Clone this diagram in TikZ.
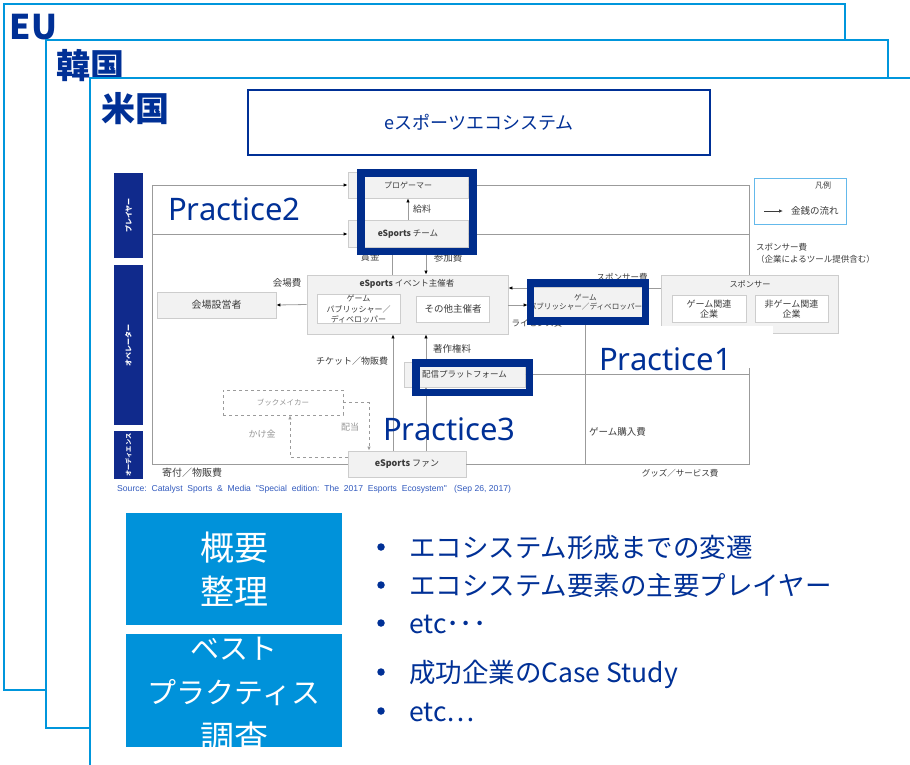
\documentclass[tikz,border=0pt]{standalone}
\usepackage{fontspec}
\setmainfont{Noto Sans CJK JP}
\newfontfamily\latinfont{Noto Sans}
\newfontfamily\arialfont{Liberation Sans}
\usetikzlibrary{arrows.meta}
\definecolor{navy}{RGB}{0,48,150}
\definecolor{framecol}{RGB}{0,150,220}
\definecolor{boxblue}{RGB}{0,146,218}
\definecolor{catnavy}{RGB}{16,42,140}
\definecolor{hinavy}{RGB}{0,45,140}
\definecolor{lgray}{RGB}{155,155,155}
\definecolor{bfill}{RGB}{242,242,242}
\definecolor{bdraw}{RGB}{205,205,205}
\definecolor{dtxt}{RGB}{60,60,60}
\definecolor{ltxt}{RGB}{150,150,150}
\definecolor{legblue}{RGB}{100,185,235}
\definecolor{srcblue}{RGB}{50,90,190}
\begin{document}
\begin{tikzpicture}[x=1pt,y=-1pt,
  frame/.style={draw=framecol, line width=2.5pt, fill=white},
  ctry/.style={text=navy, font=\fontsize{34}{34}\selectfont\bfseries, anchor=base west, inner sep=0},
  dbox/.style={draw=bdraw, fill=bfill, line width=0.8pt, inner sep=0, text=dtxt, font=\fontsize{8.5}{10}\selectfont, align=center},
  ibox/.style={draw=bdraw, fill=white, line width=0.8pt, inner sep=0, text=dtxt, font=\fontsize{8}{10.5}\selectfont, align=center},
  flow/.style={draw=lgray, line width=0.8pt, -{Latex[length=4pt,width=3.5pt,color=black]}},
  dflow/.style={draw=lgray, line width=0.8pt, dashed, -{Latex[length=4pt,width=3.5pt,color=lgray]}},
  plain/.style={draw=lgray, line width=0.8pt},
  lab/.style={text=dtxt, font=\fontsize{8.5}{10}\selectfont, inner sep=0},
  glab/.style={text=ltxt, font=\fontsize{9}{10}\selectfont, inner sep=0},
  hiframe/.style={draw=hinavy, line width=7.5pt},
  cat/.style={fill=catnavy, draw=none},
  cattext/.style={text=white, font=\fontsize{7}{8}\selectfont\bfseries, rotate=90, inner sep=0},
  prac/.style={text=navy, font=\latinfont\fontsize{31}{31}\selectfont, anchor=base west, inner sep=0},
  bul/.style={text=navy, font=\fontsize{26.5}{30}\selectfont, anchor=base west, inner sep=0},
  bdot/.style={circle, fill=navy, draw=none, minimum size=7.5pt, inner sep=0},
  btxt/.style={text=white, anchor=base, inner sep=0}
]
\useasboundingbox (0,0) rectangle (910,764);
% country frames
\draw[frame] (4,4) rectangle (845,690);
\node[ctry] (eu) at (9.5,39) {EU};
\draw[frame] (46,40) rectangle (888,728);
\node[ctry] (kr) at (56,78.5) {韓国};
\draw[frame] (90,78) rectangle (915,772);
\node[ctry] (us) at (101,121.5) {米国};
% title
\node[draw=navy, line width=1.8pt, minimum width=462pt, minimum height=65pt, inner sep=0, text=navy, font=\fontsize{18}{18}\selectfont] (title) at (479,122.5) {eスポーツエコシステム};

% category bars
\fill[cat] (114,173) rectangle (143,258);
\node[cattext] (c1) at (128.5,215.5) {プレイヤー};
\fill[cat] (114,265) rectangle (143,425);
\node[cattext] (c2) at (128.5,345) {オペレーター};
\fill[cat] (114,431) rectangle (143,479);
\node[cattext, font=\fontsize{6.2}{7}\selectfont\bfseries] (c3) at (128.5,455) {オーディエンス};

% coordinates
\coordinate (lt) at (152,185);
\coordinate (lb) at (152,464);
\coordinate (y288) at (0,288);
\coordinate (y305) at (0,305);
\coordinate (y457) at (0,457);
\coordinate (x392) at (392,0);
\coordinate (x393) at (393,0);
\coordinate (x426) at (426,0);
\coordinate (x585) at (585,0);
\coordinate (x290) at (290,0);
\coordinate (x369) at (369,0);

% boxes
\node[dbox, minimum width=120pt, minimum height=26pt, font=\fontsize{8}{9}\selectfont] (pg) at (408,185) {プロゲーマー};
\node[dbox, minimum width=120pt, minimum height=27pt] (team) at (408,234) {\textbf{eSports} チーム};
\node[dbox, minimum width=201pt, minimum height=59pt] (evt) at (407.5,304.5) {};
\node[lab, font=\fontsize{8.5}{9}\selectfont] (evtt) at (407,284) {\textbf{eSports} イベント主催者};
\node[ibox, minimum width=83pt, minimum height=26pt] (evt1) at (358.5,309) {ゲーム\\パブリッシャー／\\ディベロッパー};
\node[ibox, minimum width=73pt, minimum height=26pt, font=\fontsize{9.5}{10}\selectfont] (evt2) at (453,309) {その他主催者};
\node[dbox, minimum width=119pt, minimum height=26pt, font=\fontsize{10}{10}\selectfont] (venue) at (216.5,305) {会場設営者};
\node[dbox, minimum width=177pt, minimum height=58pt] (sp) at (749.5,304.5) {};
\node[lab, font=\fontsize{8.2}{9}\selectfont] (spt) at (750,284) {スポンサー};
\node[ibox, minimum width=74pt, minimum height=27pt, font=\fontsize{9}{10.5}\selectfont] (sp1) at (709,309) {ゲーム関連\\企業};
\node[ibox, minimum width=73pt, minimum height=27pt, font=\fontsize{9}{10.5}\selectfont] (sp2) at (791.5,309) {非ゲーム関連\\企業};
\node[dbox, minimum width=121pt, minimum height=25pt] (plat) at (464.5,374.5) {配信プラットフォーム};
\node[draw=lgray, dashed, line width=0.8pt, fill=white, minimum width=120pt, minimum height=25pt, inner sep=0, text=ltxt, font=\fontsize{7.5}{9}\selectfont] (book) at (283,402.5) {ブックメイカー};
\node[dbox, minimum width=118pt, minimum height=26pt, font=\fontsize{9}{10}\selectfont] (fan) at (407,464) {\textbf{eSports} ファン};

% connectors
\draw[plain] (fan.west) -- (lb) -- (lt);
\draw[flow] (lt) -- (pg.west);
\draw[flow] (lb |- team.west) -- (team.west);
\draw[flow] (sp.north) -- (sp.north |- pg.east) -- (pg.east);
\draw[flow] (sp.north |- team.east) -- (team.east);
\draw[flow] (sp.west |- y288) -- (evt.east |- y288);
\node[dbox, minimum width=115pt, minimum height=31pt, font=\fontsize{7.6}{9}\selectfont] (gpub) at (585.5,302.5) {ゲーム\\パブリッシャー／ディベロッパー};
\draw[flow] (evt.east |- y305) -- (gpub.west |- y305);
\draw[flow] (evt.west) -- (venue.east);
\draw[flow] (team.north) -- (pg.south);
\draw[flow] (x392 |- evt.north) -- (x392 |- team.south);
\draw[flow] (x426 |- team.south) -- (x426 |- evt.north);
\draw[flow] (x393 |- fan.north) -- (x393 |- evt.south);
\draw[flow] (x426 |- fan.north) -- (x426 |- plat.south);
\draw[flow] (x426 |- plat.north) -- (x426 |- evt.south);
\draw[plain] (fan.east) -- (sp.south |- fan.east) -- (sp.south);
\draw[flow] (sp.south |- plat.east) -- (plat.east);
\draw[flow] (x585 |- fan.east) -- (x585 |- gpub.south);
\draw[dflow] (fan.west |- y457) -| (x290 |- book.south);
\draw[dflow] (book.east) -| (x369 |- fan.north);

% labels
\node[lab, font=\fontsize{9.5}{10}\selectfont] (l1) at (287,283) {会場費};
\node[lab, font=\fontsize{9.5}{10}\selectfont] (l2) at (370,257) {賞金};
\node[lab, font=\fontsize{9.5}{10}\selectfont] (l3) at (448,258) {参加費};
\node[lab, font=\fontsize{9}{10}\selectfont] (l4) at (422,209) {給料};
\node[lab] (l5) at (622,277) {スポンサー費};
\node[lab] (l6) at (537,323) {ライセンス費};
\node[lab, font=\fontsize{9}{10}\selectfont] (l7) at (352,361) {チケット／物販費};
\node[lab, font=\fontsize{9.5}{10}\selectfont] (l8) at (452,349) {著作権料};
\node[glab] (l9) at (262,434) {かけ金};
\node[glab] (l10) at (350,427) {配当};
\node[lab, anchor=west, font=\fontsize{9.5}{10}\selectfont] (l11) at (589,432) {ゲーム購入費};
\node[lab] (l12) at (680,473) {グッズ／サービス費};
\node[lab, font=\fontsize{10}{10}\selectfont] (l13) at (192,473) {寄付／物販費};
\node[lab, anchor=west] (l14) at (756,247) {スポンサー費};
\node[lab, anchor=west] (l15) at (756,259) {（企業によるツール提供含む）};

% legend
\node[draw=legblue, line width=1pt, fill=white, minimum width=92pt, minimum height=46pt, inner sep=0] (leg) at (800,201) {};
\node[lab, font=\fontsize{8}{8}\selectfont] (legt) at (823,185) {凡例};
\coordinate (la) at (764,211);
\coordinate (lb2) at (783,211);
\draw[draw=dtxt, line width=0.8pt, -{Latex[length=4pt,width=3.5pt]}] (la) -- (lb2);
\node[lab, anchor=west, font=\fontsize{9.5}{10}\selectfont] (legl) at (791,211) {金銭の流れ};

% source
\node[anchor=west, inner sep=0, text=srcblue, font=\arialfont\fontsize{8.6}{9}\selectfont] (src) at (117,489) {Source:\ \ Catalyst\ \ Sports\ \ \&\ \ Media\ \ "Special\ \ edition:\ \ The\ \ 2017\ \ Esports\ \ Ecosystem"\ \ \ (Sep\ 26,\ 2017)};

% highlight frames
\draw[hiframe] (361,173) rectangle (473,251.5);
\draw[hiframe] (530.5,283) rectangle (645.5,321);
\draw[hiframe] (416,363) rectangle (529.5,392.5);

% practice labels
\node[prac] (p2) at (168,220) {Practice2};
\fill[white] (586,326) rectangle (773,368);
\node[prac] (p1) at (599,370) {Practice1};
\node[prac] (p3) at (383,440) {Practice3};

% bottom boxes
\fill[boxblue] (126,513) rectangle (342,625);
\node[btxt, font=\fontsize{34}{34}\selectfont] (b1a) at (234,560) {概要};
\node[btxt, font=\fontsize{34}{34}\selectfont] (b1b) at (234,604) {整理};
\fill[boxblue] (126,634) rectangle (342,747);
\begin{scope}
\clip (126,634) rectangle (342,747);
\node[btxt, font=\fontsize{29}{29}\selectfont] (b2a) at (234,659) {ベスト};
\node[btxt, font=\fontsize{29}{29}\selectfont] (b2b) at (234,703) {プラクティス};
\node[btxt, font=\fontsize{34}{34}\selectfont] (b2c) at (234,750) {調査};
\end{scope}

% bullets
\foreach \yy/\tt in {557/エコシステム形成までの変遷, 595/エコシステム要素の主要プレイヤー, 633/etc･･･, 682/成功企業のCase Study, 721/etc…}{
  \node[bul] at (409,\yy) {\tt};
  \node[bdot] at (381,\yy-10) {};
}
\end{tikzpicture}
\end{document}
